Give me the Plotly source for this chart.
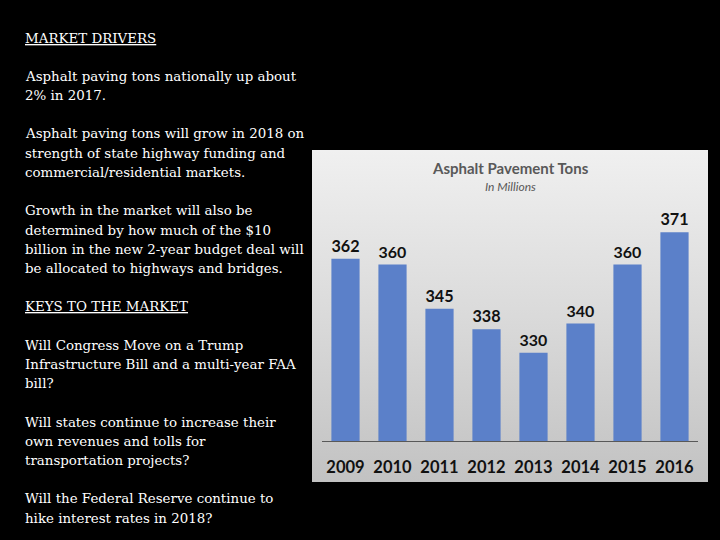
import plotly.graph_objects as go

# ---- data ----
years = ["2009", "2010", "2011", "2012", "2013", "2014", "2015", "2016"]
tons = [362, 360, 345, 338, 330, 340, 360, 371]

chart_title = "Asphalt Pavement Tons"
chart_subtitle = "In Millions"

text_lines = [
    "<u>MARKET DRIVERS</u>",
    "",
    "Asphalt paving tons nationally up about",
    "2% in 2017.",
    "",
    "Asphalt paving tons will grow in 2018 on",
    "strength of state highway funding and",
    "commercial/residential markets.",
    "",
    "Growth in the market will also be",
    "determined by how much of the $10",
    "billion in the new 2-year budget deal will",
    "be allocated to highways and bridges.",
    "",
    "<u>KEYS TO THE MARKET</u>",
    "",
    "Will Congress Move on a Trump",
    "Infrastructure Bill and a multi-year FAA",
    "bill?",
    "",
    "Will states continue to increase their",
    "own revenues and tolls for",
    "transportation projects?",
    "",
    "Will the Federal Reserve continue to",
    "hike interest rates in 2018?",
]

W, H = 720, 540
fig = go.Figure()

# panel background (gradient) on its own axes
fig.add_trace(go.Scatter(
    x=[0, 1, 1, 0, 0], y=[0, 0, 1, 1, 0],
    fill="toself", mode="none",
    fillgradient=dict(type="vertical",
                      colorscale=[[0, "#c2c2c2"], [0.5, "#dadada"], [1, "#f0f0f0"]]),
    hoverinfo="skip", showlegend=False,
    xaxis="x", yaxis="y",
))

fig.add_trace(go.Bar(
    x=years, y=tons,
    marker=dict(color="#5b80c9", line=dict(width=0)),
    text=[str(v) for v in tons], textposition="outside",
    textfont=dict(family="Lato", size=16.5, color="#111111", weight="bold"),
    cliponaxis=False, showlegend=False,
    xaxis="x2", yaxis="y2",
))

px = lambda v: v / W
py = lambda v: 1 - v / H

fig.update_layout(
    width=W, height=H,
    margin=dict(l=0, r=0, t=0, b=0),
    paper_bgcolor="black", plot_bgcolor="rgba(0,0,0,0)",
    bargap=0.4,
    xaxis=dict(domain=[px(312), px(708)], range=[0, 1], visible=False, fixedrange=True),
    yaxis=dict(domain=[py(482), py(150)], range=[0, 1], visible=False, fixedrange=True),
    xaxis2=dict(domain=[px(322), px(698)], anchor="y2", showline=True,
                linecolor="#595959", linewidth=1, showgrid=False, ticks="",
                ticklabelstandoff=11,
                tickfont=dict(family="Lato", size=16.5, color="#111111", weight="bold")),
    yaxis2=dict(domain=[py(441), py(147)], anchor="x2", range=[300, 400],
                visible=False, showgrid=False),
)

# chart title
fig.add_annotation(text=chart_title, x=px(510), y=py(168), xref="paper", yref="paper",
                   showarrow=False, xanchor="center", yanchor="middle",
                   font=dict(family="Lato", size=15, color="#595959", weight="bold"))
fig.add_annotation(text="<i>" + chart_subtitle + "</i>", x=px(510), y=py(186),
                   xref="paper", yref="paper", showarrow=False,
                   xanchor="center", yanchor="middle",
                   font=dict(family="Lato", size=12, color="#595959"))

# left text
for i, line in enumerate(text_lines):
    if not line:
        continue
    fig.add_annotation(text=line, x=px(23), y=py(38 + i * 19.2), xref="paper", yref="paper",
                       showarrow=False, xanchor="left", yanchor="middle",
                       font=dict(family="DejaVu Serif", size=13.4, color="white"))

fig.write_html("out.html", config={"displayModeBar": False},
               post_script="document.body.style.margin='0';document.body.style.background='black';")
